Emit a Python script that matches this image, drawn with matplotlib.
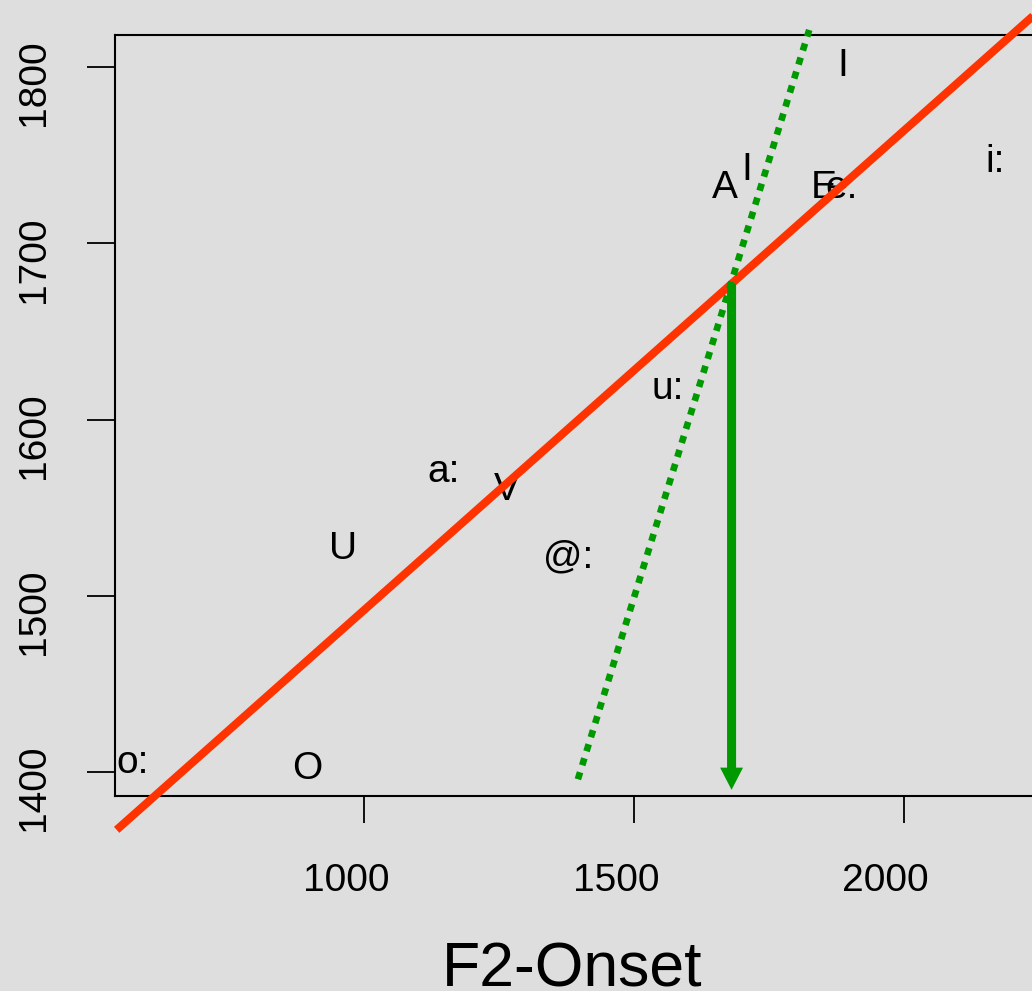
import matplotlib
matplotlib.use("Agg")
import matplotlib.pyplot as plt
import matplotlib.transforms as mtransforms
from matplotlib.patches import FancyArrowPatch

plt.rcParams['font.family'] = ['Liberation Sans', 'DejaVu Sans']

# ---- data ----
vowel_labels = ["o:", "O", "U", "a:", "V", "@:", "u:", "A", "I", "E", "e.", "I", "i:"]
f2_onset = [570.8, 893.6, 960.9, 1147.6, 1263.9, 1377.6, 1563.1, 1668.8, 1709.6, 1852.4, 1885.2, 1886.7, 2170.4]
f2_locus = [1399.8, 1396.2, 1521.0, 1564.8, 1554.5, 1515.9, 1611.6, 1725.6, 1736.0, 1725.8, 1725.8, 1795.0, 1740.7]

# regression line (red)
reg_intercept = 1220.5
reg_slope = 0.2716
reg_x = [540.6, 2300.0]

# identity-like line (green dotted)
ident_x = [1396.0, 1825.0]
ident_y = [1396.0, 1821.0]

# locus arrow
locus_x = 1681.0
arrow_from = 1677.0
arrow_to = 1390.0

x_ticks = [1000, 1500, 2000]
y_ticks = [1400, 1500, 1600, 1700, 1800]
x_label = "F2-Onset"

# ---- figure ----
bg = "#DEDEDE"
red = "#FF3300"
green = "#009900"

fig = plt.figure(figsize=(10.32, 9.91), dpi=100, facecolor=bg)
ax = fig.add_axes([0.1111, 0.1971, 0.9212, 0.7679], facecolor=bg)
ax.set_xlim(536.9, 2300)
ax.set_ylim(1386.7, 1818.3)

for s in ["top", "left", "bottom", "right"]:
    ax.spines[s].set_linewidth(1.5)
ax.spines["right"].set_visible(False)

for lab, x, y in zip(vowel_labels, f2_onset, f2_locus):
    ax.text(x, y, lab, ha="center", va="baseline", fontsize=28, color="black", zorder=2)

ry = [reg_intercept + reg_slope * x for x in reg_x]
ax.plot(reg_x, ry, color=red, lw=5.8, solid_capstyle="butt", clip_on=False, zorder=3)

ax.plot(ident_x, ident_y, color=green, lw=4.8, linestyle=(0, (1.1, 1.1)),
        dash_capstyle="butt", clip_on=False, zorder=3)

arr = FancyArrowPatch((locus_x, arrow_from), (locus_x, arrow_to),
                      arrowstyle="simple,head_length=16,head_width=16.5,tail_width=6.5",
                      mutation_scale=1, color=green, lw=0, shrinkA=0, shrinkB=0, zorder=4)
ax.add_patch(arr)

ax.set_xticks(x_ticks)
ax.set_yticks(y_ticks)
ax.set_xticklabels([str(t) for t in x_ticks])
ax.set_yticklabels([str(t) for t in y_ticks])
ax.tick_params(axis="x", length=19.4, width=1.3, pad=29, labelsize=28, direction="out")
ax.tick_params(axis="y", length=20, width=1.3, pad=25, labelsize=28, direction="out",
               labelrotation=90)
for t in ax.get_yticklabels():
    t.set_va("center")

offx = mtransforms.ScaledTranslation(-18 / 100, 0, fig.dpi_scale_trans)
offy = mtransforms.ScaledTranslation(0, -16 / 100, fig.dpi_scale_trans)
for t in ax.get_xticklabels():
    t.set_transform(t.get_transform() + offx)
for t in ax.get_yticklabels():
    t.set_transform(t.get_transform() + offy)

fig.text(572.5 / 1032, 1 - 986.7 / 991, x_label, ha="center", va="baseline", fontsize=45)

fig.savefig("out.png", dpi=100, facecolor=bg)
